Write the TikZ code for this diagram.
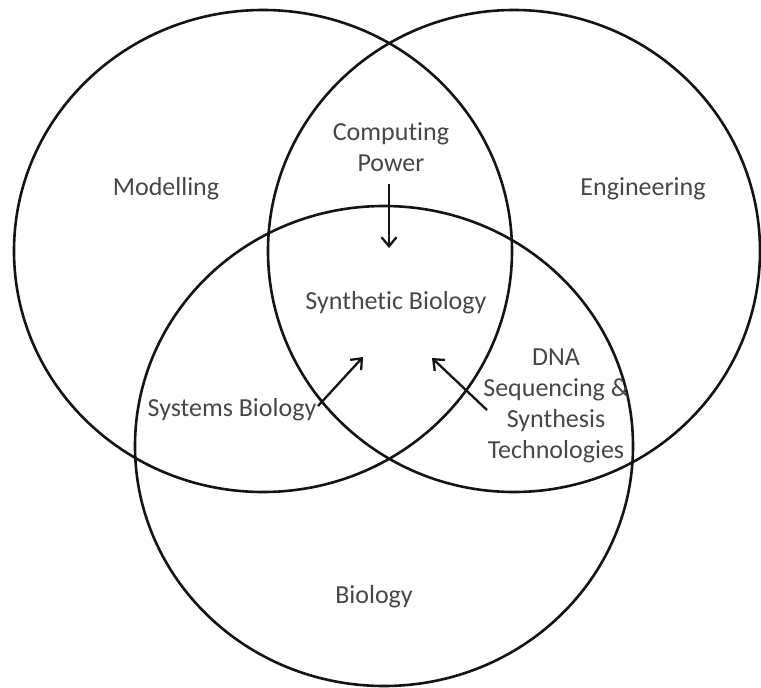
\documentclass[tikz,border=0pt]{standalone}
\usepackage{fontspec}
\setmainfont{Carlito}[Ligatures={NoCommon}]
\usetikzlibrary{arrows.meta}
\begin{document}
\begin{tikzpicture}[x=1pt,y=-1pt,
  ring/.style={line width=2.6pt, draw=black!92},
  lbl/.style={text=black!72, font=\fontsize{26}{31}\selectfont, align=center, inner sep=0pt},
  arr/.style={line width=2.3pt, draw=black!92, -{Straight Barb[length=9pt,width=15pt,line width=2.3pt]}}]
\useasboundingbox (0,0) rectangle (761,688);
\fill[white] (0,0) rectangle (761,688);
% circles
\coordinate (cm) at (263,251);
\coordinate (ce) at (514,251);
\coordinate (cb) at (384,446);
\draw[ring] (cm) ellipse [x radius=249, y radius=241];
\draw[ring] (ce) ellipse [x radius=246, y radius=241];
\draw[ring] (cb) ellipse [x radius=249, y radius=240];
% labels
\node[lbl] (model) at (166,189) {Modelling};
\node[lbl] (eng) at (643,189) {Engineering};
\node[lbl] (comp) at (391,147) {Computing\\Power};
\node[lbl] (synth) at (396,303) {Synthetic Biology};
\node[lbl] (sys) at (232,410) {Systems Biology};
\node[lbl] (dna) at (556,406) {DNA\\Sequencing \&\\Synthesis\\Technologies};
\node[lbl] (bio) at (374,597) {Biology};
% arrows
\coordinate (a1s) at (389,184);
\coordinate (a1e) at (389,248);
\coordinate (a2s) at (318,406);
\coordinate (a2e) at (363,357);
\coordinate (a3s) at (487,410);
\coordinate (a3e) at (432,358);
\draw[arr] (a1s) -- (a1e);
\draw[arr] (a2s) -- (a2e);
\draw[arr] (a3s) -- (a3e);
\end{tikzpicture}
\end{document}
